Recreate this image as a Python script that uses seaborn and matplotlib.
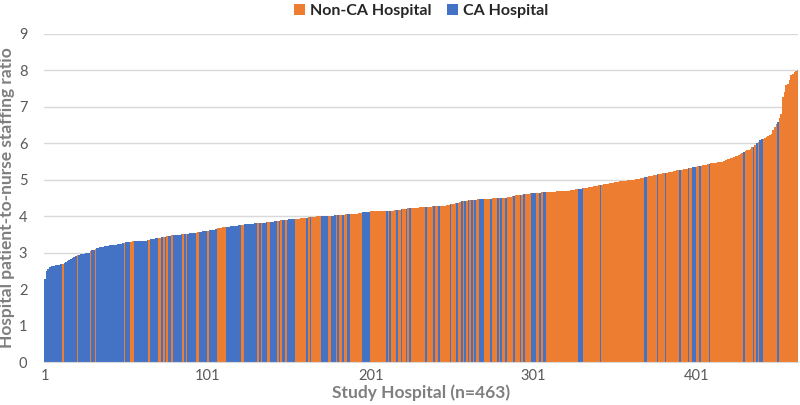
import numpy as np
import pandas as pd
import matplotlib
matplotlib.use('Agg')
import matplotlib.pyplot as plt
import seaborn as sns
from matplotlib.patches import Patch

# Staffing ratio per hospital, sorted ascending.
ratios = [
    2.27, 2.50, 2.56, 2.60, 2.62, 2.63, 2.64, 2.65, 2.66, 2.67,
    2.68, 2.70, 2.72, 2.74, 2.77, 2.80, 2.83, 2.86, 2.88, 2.91,
    2.93, 2.94, 2.95, 2.96, 2.97, 2.98, 2.99, 3.00, 3.03, 3.06,
    3.08, 3.10, 3.12, 3.13, 3.14, 3.15, 3.16, 3.17, 3.18, 3.19,
    3.20, 3.20, 3.21, 3.22, 3.22, 3.23, 3.24, 3.24, 3.25, 3.27,
    3.28, 3.29, 3.30, 3.30, 3.31, 3.31, 3.31, 3.32, 3.32, 3.32,
    3.33, 3.33, 3.33, 3.34, 3.34, 3.36, 3.37, 3.38, 3.39, 3.40,
    3.41, 3.41, 3.42, 3.43, 3.44, 3.45, 3.45, 3.46, 3.47, 3.47,
    3.48, 3.48, 3.49, 3.49, 3.50, 3.50, 3.51, 3.52, 3.52, 3.53,
    3.53, 3.54, 3.54, 3.55, 3.56, 3.57, 3.57, 3.58, 3.59, 3.59,
    3.60, 3.61, 3.61, 3.62, 3.63, 3.64, 3.66, 3.67, 3.68, 3.69,
    3.70, 3.70, 3.71, 3.71, 3.72, 3.72, 3.73, 3.73, 3.74, 3.75,
    3.75, 3.76, 3.76, 3.77, 3.78, 3.78, 3.79, 3.79, 3.79, 3.80,
    3.80, 3.80, 3.81, 3.81, 3.82, 3.82, 3.83, 3.83, 3.84, 3.84,
    3.85, 3.86, 3.86, 3.87, 3.87, 3.88, 3.89, 3.89, 3.90, 3.90,
    3.91, 3.91, 3.92, 3.92, 3.92, 3.93, 3.93, 3.94, 3.94, 3.95,
    3.95, 3.96, 3.97, 3.97, 3.98, 3.98, 3.98, 3.99, 3.99, 3.99,
    4.00, 4.00, 4.00, 4.00, 4.01, 4.01, 4.01, 4.01, 4.02, 4.02,
    4.03, 4.03, 4.03, 4.04, 4.04, 4.05, 4.05, 4.05, 4.06, 4.06,
    4.06, 4.07, 4.07, 4.08, 4.09, 4.10, 4.10, 4.11, 4.11, 4.12,
    4.13, 4.13, 4.13, 4.13, 4.14, 4.14, 4.14, 4.14, 4.14, 4.15,
    4.15, 4.15, 4.15, 4.15, 4.15, 4.16, 4.17, 4.18, 4.18, 4.19,
    4.19, 4.20, 4.20, 4.21, 4.21, 4.22, 4.22, 4.23, 4.23, 4.23,
    4.24, 4.24, 4.24, 4.25, 4.25, 4.26, 4.26, 4.26, 4.27, 4.27,
    4.27, 4.27, 4.28, 4.28, 4.28, 4.29, 4.29, 4.30, 4.31, 4.32,
    4.32, 4.33, 4.35, 4.36, 4.37, 4.39, 4.40, 4.41, 4.42, 4.42,
    4.43, 4.43, 4.44, 4.44, 4.45, 4.45, 4.46, 4.46, 4.47, 4.47,
    4.47, 4.48, 4.48, 4.48, 4.48, 4.49, 4.49, 4.49, 4.49, 4.50,
    4.50, 4.50, 4.50, 4.50, 4.51, 4.52, 4.53, 4.54, 4.55, 4.57,
    4.58, 4.58, 4.59, 4.59, 4.60, 4.60, 4.61, 4.61, 4.62, 4.62,
    4.63, 4.63, 4.64, 4.64, 4.64, 4.65, 4.65, 4.65, 4.66, 4.66,
    4.67, 4.67, 4.67, 4.67, 4.68, 4.68, 4.68, 4.68, 4.69, 4.69,
    4.69, 4.69, 4.70, 4.71, 4.72, 4.72, 4.73, 4.73, 4.74, 4.75,
    4.76, 4.77, 4.78, 4.78, 4.79, 4.80, 4.81, 4.82, 4.82, 4.83,
    4.84, 4.85, 4.86, 4.87, 4.88, 4.89, 4.89, 4.90, 4.91, 4.92,
    4.93, 4.94, 4.94, 4.95, 4.96, 4.96, 4.97, 4.97, 4.98, 4.98,
    4.99, 4.99, 5.00, 5.01, 5.02, 5.03, 5.04, 5.05, 5.06, 5.07,
    5.08, 5.09, 5.10, 5.11, 5.12, 5.13, 5.14, 5.15, 5.16, 5.17,
    5.18, 5.19, 5.19, 5.20, 5.21, 5.22, 5.23, 5.24, 5.25, 5.25,
    5.26, 5.27, 5.28, 5.29, 5.30, 5.31, 5.32, 5.33, 5.34, 5.35,
    5.35, 5.36, 5.37, 5.38, 5.39, 5.40, 5.41, 5.42, 5.44, 5.45,
    5.45, 5.46, 5.46, 5.47, 5.48, 5.48, 5.49, 5.52, 5.54, 5.56,
    5.57, 5.58, 5.60, 5.62, 5.64, 5.66, 5.68, 5.71, 5.74, 5.76,
    5.78, 5.80, 5.82, 5.85, 5.88, 5.90, 5.95, 5.99, 6.04, 6.08,
    6.10, 6.12, 6.14, 6.17, 6.20, 6.23, 6.26, 6.35, 6.45, 6.52,
    6.58, 6.70, 6.81, 7.27, 7.41, 7.59, 7.62, 7.73, 7.86, 7.90,
    7.95, 7.97, 8.00,
]

# C = CA hospital, N = non-CA hospital, one letter per rank (groups of 10)
hospital_flags = (
    "CCCCCCCCCC CNCCCCCCCC NCCCCCCCNC CNCCCCCCCC CCCCCCCCCN "
    "CCCNNCCCCC CCCCNCCCCC NNCNCNCCNC CCCCCNCNCC CCCNNCCCCC "
    "NCCCCCNNNN NNCCCCCCCC CNNCCCCCCC CNCNCCCNNC CCCNCNCCNC "
    "CCCCNNNNNN NCNCNNNNNN CCCCNNCCCN CNNCNNCCNN NNNNNCCCCC "
    "NNNNNNNNNN CNCNNNCNNC NNCNCNNNNN NNNNCNNNNC NNCNNNNNNC "
    "NNNCNNCNCN CNCNCNNCCC NNNNCNNNCN CNNCNNNNCN NNCNCNNNNC "
    "CCNNCNCCNN NNNNNNNNNN NNNNNNNNCC CNNNNNNNNN NCNNNNNNNN "
    "NNNNNNNNNN NNNNNNNNCC NNNNNNCNNN NCNNNNNNNN CNNNNCNNCC "
    "NNCNNNNNCN NNNNNNNNNN NNNNNNNNNC NNNNNCNCNC CNNNNNNNNN "
    "CNNNNNNNNN NNN"
).replace(" ", "")

type_names = {"C": "CA Hospital", "N": "Non-CA Hospital"}
hue_order = ["Non-CA Hospital", "CA Hospital"]
colors = {"Non-CA Hospital": "#ED7D31", "CA Hospital": "#4472C4"}
x_ticks = [1, 101, 201, 301, 401]
y_ticks = list(range(0, 10))

df = pd.DataFrame({
    "rank": np.arange(1, len(ratios) + 1),
    "ratio": ratios,
    "type": [type_names[c] for c in hospital_flags],
})

sns.set_style("white")
plt.rcParams["font.family"] = ["Lato", "DejaVu Sans"]

fig = plt.figure(figsize=(8, 4.05), dpi=100)
ax = fig.add_axes([0.055, 0.106, 0.943, 0.811])

sns.barplot(data=df, x="rank", y="ratio", hue="type", hue_order=hue_order,
            palette=colors, saturation=1, native_scale=True, width=1.0,
            dodge=False, linewidth=0, legend=False, ax=ax, zorder=2)
for p in ax.patches:
    p.set_antialiased(False)

ax.set_xlim(0.5, len(ratios) + 0.5)
ax.set_ylim(0, 9)
ax.set_yticks(y_ticks)
ax.set_xticks(x_ticks)
ax.set_xticklabels([str(t) for t in x_ticks])
ax.yaxis.grid(True, color="#D9D9D9", linewidth=1, zorder=0)
ax.set_axisbelow(True)
for side in ["top", "right", "left"]:
    ax.spines[side].set_visible(False)
ax.spines["bottom"].set_color("#D9D9D9")
ax.tick_params(axis="both", length=0, labelsize=10.5, colors="#595959")
ax.tick_params(axis="y", pad=12)
ax.tick_params(axis="x", pad=5)

ax.set_xlabel("Study Hospital (n=463)", fontsize=12.5, fontweight="bold",
              color="#7F7F7F", labelpad=1)
ax.set_ylabel("Hospital patient-to-nurse staffing ratio", fontsize=12.5,
              fontweight="bold", color="#7F7F7F", labelpad=3)

# legend centred over the plot area, as in the original
handles = [Patch(facecolor=colors[h], edgecolor="none", label=h) for h in hue_order]
ax.legend(handles=handles, loc="upper center", bbox_to_anchor=(0.5, 1.09),
          ncol=2, frameon=False, handlelength=0.7, handleheight=0.7,
          handletextpad=0.3, columnspacing=1.0, borderaxespad=0,
          borderpad=0, prop={"weight": "bold", "size": 11.5})

fig.savefig("out.png", dpi=100)
